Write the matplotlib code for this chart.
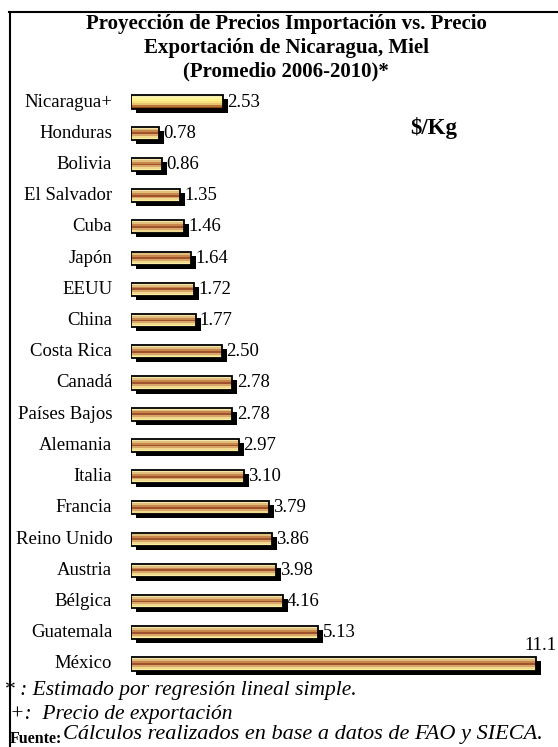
import matplotlib
matplotlib.use("Agg")
import matplotlib.pyplot as plt
import matplotlib.transforms as mtransforms

countries = ["Nicaragua+", "Honduras", "Bolivia", "El Salvador", "Cuba", "Japón", "EEUU",
             "China", "Costa Rica", "Canadá", "Países Bajos", "Alemania", "Italia", "Francia",
             "Reino Unido", "Austria", "Bélgica", "Guatemala", "México"]
values = [2.53, 0.78, 0.86, 1.35, 1.46, 1.64, 1.72, 1.77, 2.50, 2.78, 2.78, 2.97, 3.10,
          3.79, 3.86, 3.98, 4.16, 5.13, 11.1]
value_labels = ["2.53", "0.78", "0.86", "1.35", "1.46", "1.64", "1.72", "1.77", "2.50", "2.78",
                "2.78", "2.97", "3.10", "3.79", "3.86", "3.98", "4.16", "5.13", "11.1"]

W, H = 558, 747
fig = plt.figure(figsize=(W / 100, H / 100), dpi=100)
plt.rcParams['font.family'] = ['Liberation Serif', 'DejaVu Serif']

def fx(x):
    return x / W

def fy(y):
    return 1 - y / H

# frame lines (top and left)
fig.add_artist(plt.Line2D([fx(9), fx(558)], [fy(12), fy(12)], color='black', lw=1.5))
fig.add_artist(plt.Line2D([fx(9.5), fx(9.5)], [fy(12), fy(747)], color='black', lw=1.5))

ax_left, ax_top, ax_bottom, ax_right = 131, 80, 690, 558
ax = fig.add_axes([fx(ax_left), fy(ax_bottom), (ax_right - ax_left) / W, (ax_bottom - ax_top) / H])
ppu = 36.5
row = 31.2
ax.set_xlim(0, (ax_right - ax_left) / ppu)
ax.set_ylim(18 + (ax_bottom - 664) / row, -(102 - ax_top) / row)
ax.axis('off')

bh = 0.42
normal_stripes = ['#F3E6A8', '#E2BE7E', '#C7864A', '#A0522D', '#D8A666', '#F0D88E', '#F8EE9E']
nic_stripes = ['#F4ECB8', '#FFF6A0', '#FFF08A', '#F6E27C', '#E8C470', '#B8763A', '#8B4513']

shadow_tr = mtransforms.offset_copy(ax.transData, fig=fig, x=5, y=-4, units='dots')

for i, (v, lab) in enumerate(zip(values, value_labels)):
    ax.barh(i, v, height=bh, color='black', transform=shadow_tr, zorder=1)
    stripes = nic_stripes if i == 0 else normal_stripes
    n = len(stripes)
    sh = bh / n
    for k, c in enumerate(stripes):
        yc = i - bh / 2 + sh * (k + 0.5)
        ax.barh(yc, v, height=sh, color=c, linewidth=0, zorder=2)
    ax.barh(i, v, height=bh, facecolor='none', edgecolor='black', linewidth=1.3, zorder=3)
    if v > 10:
        ax.annotate(lab, xy=(v, i), xytext=(3, 7), textcoords='offset points',
                    ha='center', va='bottom', fontsize=13.5, annotation_clip=False)
    else:
        ax.annotate(lab, xy=(v, i), xytext=(3, 0), textcoords='offset points',
                    ha='left', va='center', fontsize=13.5)
    ax.annotate(countries[i], xy=(0, i), xytext=(-13.5, 0), textcoords='offset points',
                ha='right', va='center', fontsize=13.5, annotation_clip=False)

# title
title_lines = ["Proyección de Precios Importación vs. Precio",
               "Exportación de Nicaragua, Miel",
               "(Promedio 2006-2010)*"]
for k, t in enumerate(title_lines):
    fig.text(fx(286), fy(24 + 23.5 * k), t, ha='center', va='center', fontsize=15,
             fontweight='bold')

fig.text(fx(434), fy(128), "$/Kg", ha='center', va='center', fontsize=16.5, fontweight='bold')

fig.text(fx(4), fy(690), "* : Estimado por regresión lineal simple.", ha='left', va='center',
         fontsize=15.5, style='italic')
fig.text(fx(10), fy(714), "+:  Precio de exportación", ha='left', va='center',
         fontsize=15.5, style='italic')
fig.text(fx(10), fy(739), "Fuente:", ha='left', va='center', fontsize=11.5, fontweight='bold')
fig.text(fx(63), fy(734), "Cálculos realizados en base a datos de FAO y SIECA.", ha='left',
         va='center', fontsize=16, style='italic')

fig.savefig("out.png", dpi=100, facecolor='white')
